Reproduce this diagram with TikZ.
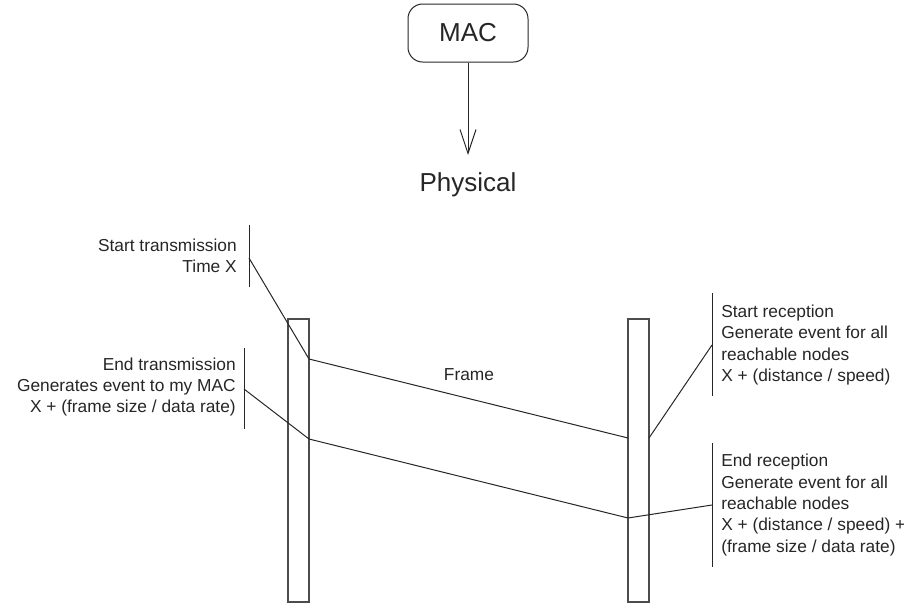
\documentclass[tikz,border=0pt]{standalone}
\usepackage{fontspec}
\setmainfont{Liberation Sans}
\usetikzlibrary{arrows.meta}
\begin{document}
\begin{tikzpicture}[x=0.75pt, y=-0.75pt,
    wire/.style={line width=0.75pt, black!85},
    lifeline/.style={line width=1pt, black!70},
    note/.style={font=\fontsize{13}{16.1}\selectfont, inner sep=0pt, text=black!85}]
    \useasboundingbox (0,0) rectangle (904,603);

    % MAC layer and arrow down to the physical layer
    \node[draw, wire, rounded corners=11pt, minimum width=90pt, minimum height=43.5pt,
          font=\fontsize{19.5}{22}\selectfont] (mac) at (468,33) {MAC};
    \coordinate (macTip) at (468,155);
    \draw[wire, -{Straight Barb[length=18pt, width=12pt]}] (mac.south) -- (macTip);
    \node[font=\fontsize{19.5}{22}\selectfont, text=black!85] (phy) at (468,185) {Physical};

    % Lifelines of sender and receiver
    \draw[lifeline] (288,319) rectangle (309,602);
    \draw[lifeline] (628,319) rectangle (649,602);

    % Points where the frame leaves and arrives
    \coordinate (txStart) at (309,359);
    \coordinate (txEnd) at (309,439);
    \coordinate (rxStart) at (628,438);
    \coordinate (rxStartOut) at (649,438);
    \coordinate (rxEnd) at (628,518);

    % Frame
    \draw[wire] (txStart) -- (rxStart);
    \draw[wire] (txEnd) -- (rxEnd);
    \node[note] (frame) at (469,375) {Frame};

    % Sender notes
    \coordinate (stTop) at (249,225);
    \coordinate (stBot) at (249,287);
    \coordinate (stMid) at (249,258);
    \draw[wire] (stTop) -- (stBot);
    \draw[wire] (stMid) -- (txStart);
    \node[note, anchor=east, align=right] (stText) at (237,256)
        {Start transmission\\Time X};

    \coordinate (etTop) at (244,348);
    \coordinate (etBot) at (244,429);
    \coordinate (etMid) at (244,389);
    \draw[wire] (etTop) -- (etBot);
    \draw[wire] (etMid) -- (txEnd);
    \node[note, anchor=east, align=right] (etText) at (236,387)
        {End transmission\\Generates event to my MAC\\X + (frame size / data rate)};

    % Receiver notes
    \coordinate (srTop) at (712,293);
    \coordinate (srBot) at (712,396);
    \coordinate (srMid) at (712,345);
    \draw[wire] (srTop) -- (srBot);
    \draw[wire] (srMid) -- (rxStartOut);
    \node[note, anchor=west, align=left] (srText) at (721,345)
        {Start reception\\Generate event for all\\reachable nodes\\X + (distance / speed)};

    \coordinate (erTop) at (712,443);
    \coordinate (erBot) at (712,567);
    \coordinate (erMid) at (712,505);
    \draw[wire] (erTop) -- (erBot);
    \draw[wire] (erMid) -- (rxEnd);
    \node[note, anchor=west, align=left] (erText) at (721,505)
        {End reception\\Generate event for all\\reachable nodes\\X + (distance / speed) +\\(frame size / data rate)};
\end{tikzpicture}
\end{document}
